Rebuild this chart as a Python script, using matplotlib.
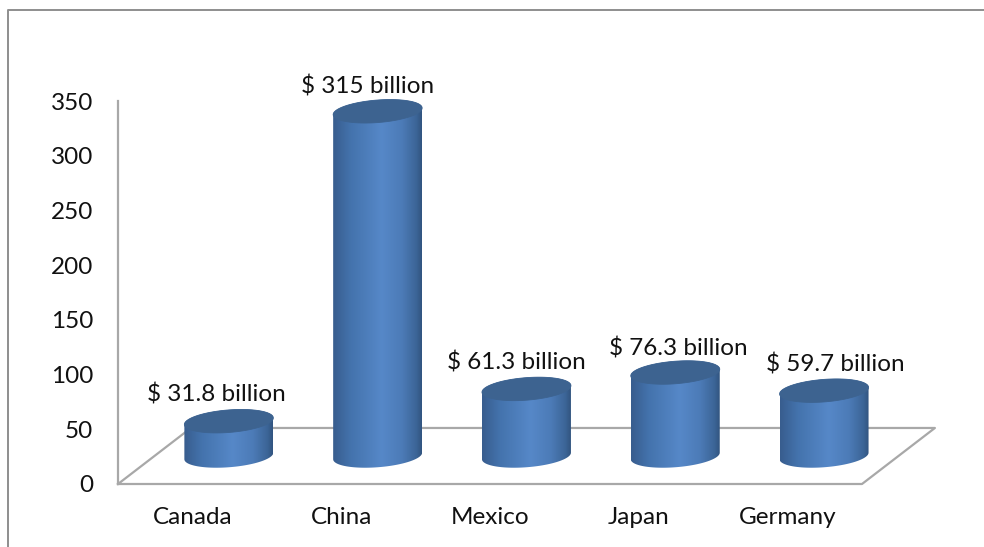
import matplotlib
matplotlib.use("Agg")
import matplotlib.pyplot as plt
import numpy as np
from matplotlib.colors import LinearSegmentedColormap
from matplotlib.lines import Line2D
from matplotlib.patches import Polygon

countries = ["Canada", "China", "Mexico", "Japan", "Germany"]
imports = [31.8, 315, 61.3, 76.3, 59.7]
y_ticks = [0, 50, 100, 150, 200, 250, 300, 350]

# label offsets from the top of each cylinder, in points
label_dx = [-9, -7, -7, 2, 8]
label_dy = [11, 10, 11, 9, 11]

W, H = 984, 547
plt.rcParams["font.family"] = ["Lato", "DejaVu Sans"]

fig = plt.figure(figsize=(W / 100, H / 100), dpi=100)
ax = fig.add_axes([118 / W, 1 - 484 / H, 744 / W, 383 / H])
ax.set_xlim(-0.5, 4.5)
ax.set_ylim(0, 350)
ax.patch.set_visible(False)
for s in ax.spines.values():
    s.set_visible(False)

GREY = "#a8a8a8"

# chart frame: left and top edges only
fig.add_artist(Line2D([8 / W, 8 / W, 1],
                      [0, 1 - 10 / H, 1 - 10 / H],
                      color="#8e8e8e", lw=1.4))

# depth of the floor in data units
depth_x = 0.49
depth_y = 51.2

floor_x = [-0.5, 4.5, 4.5 + depth_x, -0.5 + depth_x, -0.5]
floor_y = [0, 0, depth_y, depth_y, 0]
ax.plot(floor_x, floor_y, color=GREY, lw=1.6, clip_on=False, zorder=1)
ax.plot([-0.5, -0.5], [0, 350], color=GREY, lw=1.6, clip_on=False, zorder=1)

side_cmap = LinearSegmentedColormap.from_list(
    "side", [(0, "#385d8e"), (0.2, "#4473ad"), (0.55, "#5688c8"),
             (0.78, "#4c7bb7"), (0.94, "#3c6597"), (1, "#325581")])
gradient = np.linspace(0, 1, 128).reshape(1, -1)

half_w = 0.299
half_h = 10.3
tilt = 3.0
t = np.linspace(0, 2 * np.pi, 121)


def ellipse(cx, cy):
    return cx + half_w * np.cos(t), cy + half_h * np.sin(t) + tilt * np.cos(t)


for i, v in enumerate(imports):
    cx = i + depth_x / 2
    base = depth_y / 2

    # body outline: lower half of the base ellipse plus upper half of the top one
    bx, by = ellipse(cx, base)
    tx, ty = ellipse(cx, base + v)
    lower = t >= np.pi
    upper = t <= np.pi
    outline = np.column_stack([np.r_[bx[lower], tx[upper]],
                               np.r_[by[lower], ty[upper]]])
    body = Polygon(outline, closed=True, transform=ax.transData, fc="none", ec="none")
    ax.add_patch(body)
    im = ax.imshow(gradient, cmap=side_cmap, aspect="auto", zorder=3,
                   extent=[cx - half_w, cx + half_w, base - 15, base + v + 15],
                   interpolation="bilinear")
    im.set_clip_path(body)
    im.set_clip_box(fig.bbox)

    ax.fill(tx, ty, color="#3d6390", lw=0.6, zorder=4, clip_on=False)

    ax.annotate(f"$ {v:g} billion", xy=(cx, base + v),
                xytext=(label_dx[i], label_dy[i]), textcoords="offset points",
                ha="center", va="bottom", fontsize=17.5, color="#111111", zorder=5)

ax.set_xlim(-0.5, 4.5)
ax.set_ylim(0, 350)

ax.set_xticks(range(len(countries)))
ax.set_xticklabels(countries)
ax.set_yticks(y_ticks)
ax.tick_params(axis="both", length=0, labelsize=17.5, labelcolor="#111111")
ax.tick_params(axis="x", pad=16.5)
ax.tick_params(axis="y", pad=18)

fig.savefig("out.png", dpi=100, facecolor="white")
